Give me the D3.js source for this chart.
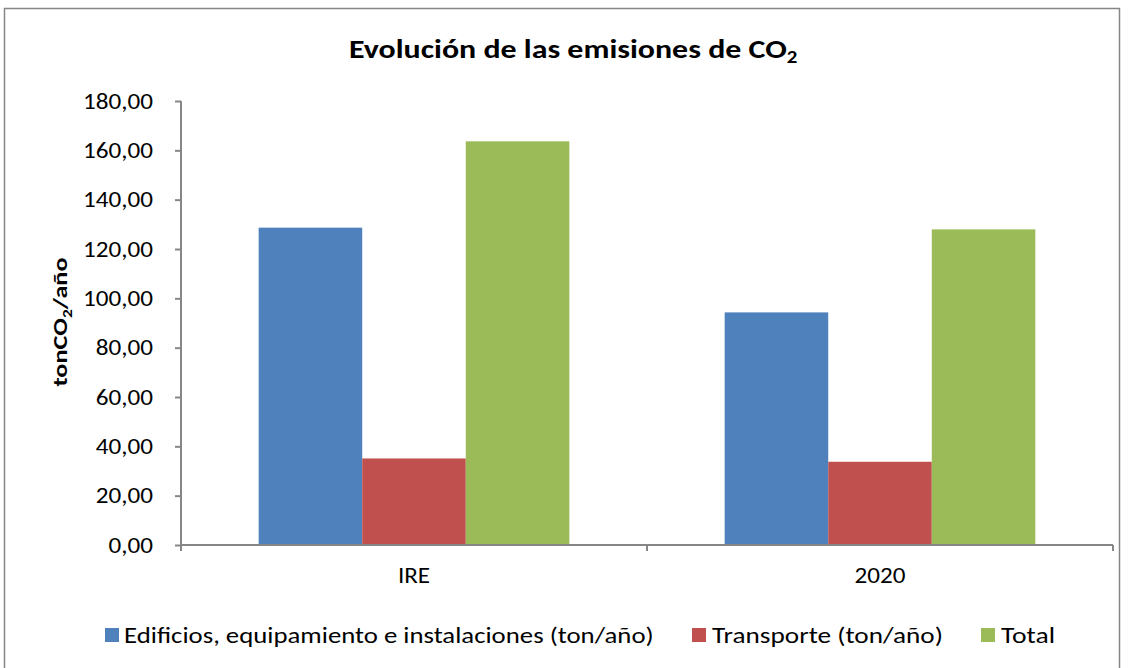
<!DOCTYPE html>
<html>
<head>
<meta charset="utf-8">
<script src="https://cdn.jsdelivr.net/npm/d3@7"></script>
<style>
  body { margin: 0; background: #fff; }
  svg { display: block; }
  text { font-family: Carlito, Calibri, Lato, sans-serif; fill: #000; }
  .axis path, .axis line { stroke: #868686; stroke-width: 2; }
</style>
</head>
<body>
<div id="chart"></div>
<script>
// categories and series
const categories = ['IRE', '2020'];
const seriesNames = ['Edificios, equipamiento e instalaciones (ton/año)', 'Transporte (ton/año)', 'Total'];
const edificios = [128.65, 94.3];
const transporte = [35.08, 33.74];
const total = [163.65, 127.96];
const seriesColors = ['#4f81bd', '#c0504d', '#9bbb59'];
const yTicks = [0, 20, 40, 60, 80, 100, 120, 140, 160, 180];

const width = 1131;
const height = 668;
const margin = { top: 101, right: 18, bottom: 123, left: 181 };

// the reference text is wider than Lato at the same glyph height,
// so each label is stretched horizontally to the width it has there
function stretch(node, targetWidth, tx, ty, rotate) {
  d3.select(node).attr('x', 0).attr('transform', null);
  const k = targetWidth / node.getBBox().width;
  const rot = rotate ? ` rotate(${rotate})` : '';
  d3.select(node).attr('transform', `translate(${tx},${ty})${rot} scale(${k},1)`);
  return k;
}

const svg = d3.select('#chart').append('svg')
  .attr('width', width)
  .attr('height', height);

// outer chart frame
svg.append('rect')
  .attr('x', 4.5).attr('y', 8.5)
  .attr('width', 1115).attr('height', 680)
  .attr('fill', 'none')
  .attr('stroke', '#868686')
  .attr('stroke-width', 1.5);

const x = d3.scaleBand()
  .domain(categories)
  .range([margin.left, width - margin.right]);

const y = d3.scaleLinear()
  .domain([0, 180])
  .range([height - margin.bottom, margin.top]);

// each series takes a third of the cluster, gap between clusters is 150% of a bar
const inner = d3.scaleBand()
  .domain(d3.range(seriesNames.length))
  .range([0, x.bandwidth()])
  .paddingOuter(0.75)
  .paddingInner(0);

const rows = [edificios, transporte, total];

// bars
rows.forEach((values, s) => {
  svg.append('g')
    .selectAll('rect')
    .data(categories)
    .join('rect')
    .attr('x', (c) => x(c) + inner(s))
    .attr('width', inner.bandwidth())
    .attr('y', (c, i) => y(values[i]))
    .attr('height', (c, i) => y(0) - y(values[i]))
    .attr('fill', seriesColors[s]);
});

// y axis
const yAxis = svg.append('g')
  .attr('class', 'axis')
  .attr('transform', `translate(${margin.left},0)`)
  .call(d3.axisLeft(y)
    .tickValues(yTicks)
    .tickSize(6)
    .tickPadding(23)
    .tickFormat((d) => d3.format('.2f')(d).replace('.', ',')));
yAxis.select('.domain').attr('d', `M0,${margin.top}V${height - margin.bottom}`);
const yLabels = yAxis.selectAll('text').style('font-size', '22px').attr('fill', '#000');
// one common stretch factor, taken from the widest label
const topLabel = yLabels.filter((d) => d === 180).node();
const kTick = 70 / topLabel.getBBox().width;
yLabels.attr('x', 0).attr('transform', `translate(-28,0) scale(${kTick},1)`);

// x axis
const xAxis = svg.append('g')
  .attr('class', 'axis')
  .attr('transform', `translate(0,${height - margin.bottom})`)
  .call(d3.axisBottom(x).tickSize(0).tickPadding(22));
xAxis.select('.domain').attr('d', `M${margin.left},0H${width - margin.right}`);
xAxis.selectAll('text')
  .style('font-size', '22px')
  .attr('fill', '#000')
  .attr('transform', `scale(${kTick},1)`)
  .attr('x', 0);
// category boundary ticks
xAxis.selectAll('.sep')
  .data([x('IRE'), x('2020'), x('2020') + x.bandwidth()])
  .join('line')
  .attr('x1', (d) => d).attr('x2', (d) => d)
  .attr('y1', 0).attr('y2', 6)
  .attr('stroke', '#868686').attr('stroke-width', 2);

// title
const title = svg.append('text')
  .style('font-size', '26px')
  .style('font-weight', 'bold');
title.append('tspan').text('Evolución de las emisiones de CO');
title.append('tspan').attr('dy', 5).style('font-size', '17px').text('2');
stretch(title.node(), 449, 349, 58);

// y axis title
const yTitle = svg.append('text')
  .attr('text-anchor', 'middle')
  .style('font-size', '21px')
  .style('font-weight', 'bold');
yTitle.append('tspan').text('tonCO');
yTitle.append('tspan').attr('dy', 5).style('font-size', '14px').text('2');
yTitle.append('tspan').attr('dy', -5).text('/año');
stretch(yTitle.node(), 129, 67, 322, -90);

// legend
const legendBoxX = [105, 692, 981];
const legendTextX = [124, 712, 1001];
const legendTextW = [530, 231, 54];
svg.append('g')
  .selectAll('rect')
  .data(seriesNames)
  .join('rect')
  .attr('x', (d, i) => legendBoxX[i])
  .attr('y', 628)
  .attr('width', 14).attr('height', 14)
  .attr('fill', (d, i) => seriesColors[i]);
svg.append('g')
  .selectAll('text')
  .data(seriesNames)
  .join('text')
  .style('font-size', '22px')
  .text((d) => d)
  .each(function (d, i) {
    stretch(this, legendTextW[i], legendTextX[i], 643);
  });
</script>
</body>
</html>
